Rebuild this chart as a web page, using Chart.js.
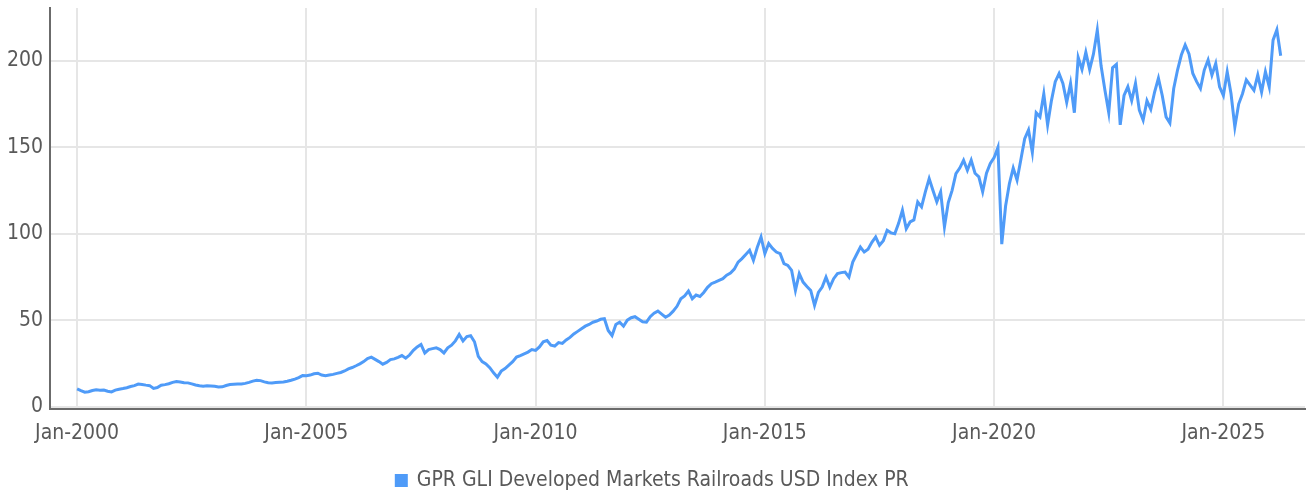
<!DOCTYPE html>
<html>
<head>
<meta charset="utf-8">
<script src="https://cdn.jsdelivr.net/npm/chart.js@4"></script>
<style>
    html, body { margin: 0; padding: 0; background: #fff; }
    #wrap { width: 1306px; height: 493px; }
</style>
</head>
<body>
<div id="wrap"><canvas id="railChart"></canvas></div>
<script>
// Series name and axis ticks
const seriesName = 'GPR GLI Developed Markets Railroads USD Index PR';
const yTicks = [0, 50, 100, 150, 200];
const xTicks = [2000, 2005, 2010, 2015, 2020, 2025];
const startYear = 2000;

// Monthly index levels (Jan 2000 onwards)
const values2000s = [
    10.2, 9.2, 8.3, 8.6, 9.3, 9.7, 9.5, 9.6, 8.9, 8.5, 9.5, 10.0,
    10.4, 10.9, 11.6, 12.1, 13.0, 12.8, 12.4, 12.1, 10.5, 11.0, 12.3, 12.7,
    13.2, 14.0, 14.5, 14.2, 13.8, 13.7, 13.1, 12.5, 12.0, 11.8, 12.1, 11.9,
    11.7, 11.3, 11.4, 12.2, 12.8, 12.9, 13.0, 13.1, 13.4, 14.0, 14.7, 15.2,
    15.0, 14.3, 13.8, 13.7, 13.9, 14.1, 14.2, 14.6, 15.2, 15.9, 16.8, 17.9,
    17.8, 18.2, 19.0, 19.3, 18.2, 17.8, 18.2, 18.6, 19.2, 19.7, 20.6, 21.8,
    22.6, 23.6, 24.7, 26.0, 27.8, 28.6, 27.3, 26.0, 24.5, 25.5, 27.2, 27.6,
    28.5, 29.5, 28.0, 29.8, 32.5, 34.5, 35.9, 31.0, 33.0, 33.5, 34.0, 33.0,
    31.0, 34.0, 35.5, 38.0, 41.7, 38.0, 40.5, 41.0, 37.5, 29.0, 26.0, 24.7,
    22.5, 19.5, 17.0, 20.5, 22.0, 24.0, 26.0, 28.6, 29.5, 30.5, 31.5, 33.0
];
const values2010s = [
    32.5, 34.5, 37.5, 38.2, 35.5, 35.0, 37.0, 36.5, 38.5, 40.0, 42.0, 43.5,
    45.0, 46.5, 47.5, 48.8, 49.5, 50.5, 50.8, 44.0, 41.1, 47.5, 48.8, 46.5,
    50.0, 51.4, 52.0, 50.5, 49.0, 48.8, 52.0, 54.0, 55.2, 53.5, 51.7, 53.0,
    55.2, 58.0, 62.4, 64.0, 66.8, 62.4, 64.5, 63.7, 66.0, 69.0, 71.1, 72.0,
    73.0, 74.0, 76.0, 77.2, 79.5, 83.6, 85.6, 88.0, 90.4, 84.6, 92.0, 98.1,
    88.5, 94.3, 91.5, 89.4, 88.5, 82.7, 81.7, 78.8, 67.2, 76.9, 72.0, 69.5,
    67.2, 58.5, 66.0, 69.1, 74.9, 69.1, 74.0, 76.9, 77.5, 77.8, 74.9, 83.6,
    88.0, 92.3, 89.4, 91.0, 95.0, 98.1, 93.3, 96.0, 102.0, 100.5, 100.0, 106.0,
    113.6, 102.9, 106.8, 108.0, 118.4, 115.5, 124.2, 131.9, 125.0, 118.4, 124.2, 104.0,
    118.0, 125.1, 134.8, 138.0, 142.5, 136.7, 142.5, 135.0, 132.9, 124.2, 135.0, 140.6
];
const values2020s = [
    144.0, 150.0, 94.0, 116.0, 129.0, 138.0, 131.0, 143.0, 155.0, 160.0, 147.0, 170.0,
    167.6, 181.0, 163.0, 177.0, 188.0, 192.7, 187.0, 176.0, 187.0, 170.0, 202.0, 195.0,
    205.0, 195.0, 204.0, 217.8, 197.0, 183.0, 170.0, 196.0, 198.0, 163.0, 180.0, 185.0,
    177.0, 187.0, 171.5, 165.7, 177.0, 172.0, 182.0, 190.0, 180.0, 167.6, 164.0, 184.0,
    194.7, 203.4, 209.2, 204.0, 192.7, 188.0, 184.0, 194.7, 200.5, 191.8, 198.5, 185.0,
    180.0, 193.7, 181.0, 161.8, 175.0, 181.0, 189.0, 186.0, 183.0, 191.8, 182.0, 193.7,
    185.0, 212.0, 218.0, 203.0
];

const allValues = values2000s.concat(values2010s, values2020s);
const points = allValues.map((v, i) => ({ x: startYear + i / 12, y: v }));

const lineColor = '#4f9bf8';
const labelFont = { family: "'DejaVu Sans Condensed', 'DejaVu Sans', sans-serif", size: 21 };

const ctx = document.getElementById('railChart').getContext('2d');
const railChart = new Chart(ctx, {
    type: 'line',
    data: {
        datasets: [{
            label: seriesName,
            data: points,
            borderColor: lineColor,
            backgroundColor: lineColor,
            borderWidth: 3,
            pointRadius: 0,
            tension: 0
        }]
    },
    options: {
        responsive: true,
        maintainAspectRatio: false,
        animation: false,
        layout: { padding: { left: 0, right: 1, top: 8, bottom: -8 } },
        plugins: {
            tooltip: { enabled: false },
            legend: {
                position: 'bottom',
                labels: {
                    boxWidth: 10,
                    boxHeight: 10,
                    padding: 2,
                    color: '#595959',
                    font: labelFont
                }
            }
        },
        scales: {
            x: {
                type: 'linear',
                min: 1999.41,
                max: 2026.78,
                afterBuildTicks: (scale) => { scale.ticks = xTicks.map(v => ({ value: v })); },
                afterFit: (scale) => { scale.height += 10; },
                grid: { color: '#e6e6e6', lineWidth: 2, drawTicks: false },
                border: { color: '#6b6b6b', width: 2 },
                ticks: {
                    color: '#595959',
                    font: labelFont,
                    padding: 12,
                    maxRotation: 0,
                    callback: (v) => 'Jan-' + v
                }
            },
            y: {
                min: -1.3,
                max: 230.6,
                afterBuildTicks: (scale) => { scale.ticks = yTicks.map(v => ({ value: v })); },
                afterFit: (scale) => { scale.paddingTop = 0; scale.paddingBottom = 0; },
                grid: { color: '#e6e6e6', lineWidth: 2, drawTicks: false },
                border: { color: '#6b6b6b', width: 2 },
                ticks: {
                    color: '#595959',
                    font: labelFont,
                    padding: 7
                }
            }
        }
    }
});
</script>
</body>
</html>
